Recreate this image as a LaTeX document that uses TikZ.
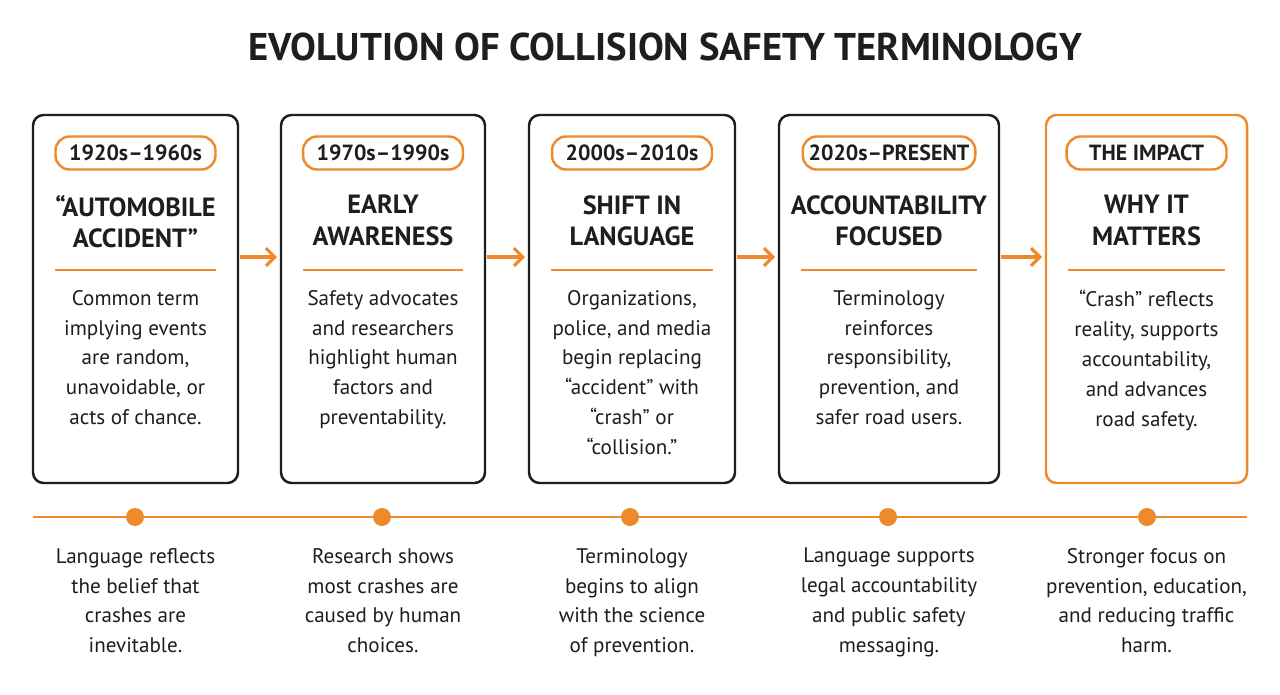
\documentclass[tikz,border=0pt]{standalone}
\usepackage{fontspec}
\setmainfont{PT Sans}
\usetikzlibrary{positioning,arrows.meta}
\definecolor{accent}{HTML}{EE8A2C}
\definecolor{ink}{HTML}{1E1E1E}
\tikzset{
  card/.style={draw=ink,line width=1.4pt,rounded corners=6pt,fill=white},
  pill/.style={draw=accent,line width=1.4pt,rounded corners=8pt,minimum width=3.2cm,minimum height=0.66cm,font=\fontsize{12.5}{13}\selectfont\bfseries,text=ink},
  head/.style={font=\fontsize{15}{18}\selectfont\bfseries,text=ink,align=center},
  body/.style={font=\fontsize{12}{17}\selectfont,text=ink,align=center},
  flow/.style={-{Straight Barb[length=5pt,width=10pt]},draw=accent,line width=1.8pt},
  dot/.style={circle,fill=accent,inner sep=0pt,minimum size=0.36cm}
}
\begin{document}
\begin{tikzpicture}[x=0.02cm,y=-0.02cm]
\useasboundingbox[fill=white] (0,0) rectangle (1280,694);
\node[font=\fontsize{22}{22}\selectfont\bfseries,text=ink] (title) at (665,47) {EVOLUTION OF COLLISION SAFETY TERMINOLOGY};
% timeline
\coordinate (tl) at (33,517);
\coordinate (tr) at (1247,517);
\draw[accent,line width=1.6pt] (tl) -- (tr);
\foreach \i/\l/\r/\c/\d/\h/\b/\bot in {
 1/33/238/ink/{1920s--1960s}/{``AUTOMOBILE\\ACCIDENT''}/{Common term\\implying events\\are random,\\unavoidable, or\\acts of chance.}/{Language reflects\\the belief that\\crashes are\\inevitable.},
 2/281/485/ink/{1970s--1990s}/{EARLY\\AWARENESS}/{Safety advocates\\and researchers\\highlight human\\factors and\\preventability.}/{Research shows\\most crashes are\\caused by human\\choices.},
 3/529/735/ink/{2000s--2010s}/{SHIFT IN\\LANGUAGE}/{Organizations,\\police, and media\\begin replacing\\``accident'' with\\``crash'' or\\``collision.''}/{Terminology\\begins to align\\with the science\\of prevention.},
 4/779/999/ink/{2020s--PRESENT}/{ACCOUNTABILITY\\FOCUSED}/{Terminology\\reinforces\\responsibility,\\prevention, and\\safer road users.}/{Language supports\\legal accountability\\and public safety\\messaging.},
 5/1046/1247/accent/{THE IMPACT}/{WHY IT\\MATTERS}/{``Crash'' reflects\\reality, supports\\accountability,\\and advances\\road safety.}/{Stronger focus on\\prevention, education,\\and reducing traffic\\harm.}}{
  \pgfmathsetmacro{\cx}{(\l+\r)/2}
  \draw[card,draw=\c] (\l,115) rectangle (\r,483);
  \coordinate (in\i) at (\l-4,257);
  \coordinate (out\i) at (\r+2,257);
  \node[pill] (date\i) at (\cx,153) {\d};
  \node[head,anchor=north] (head\i) at (\cx,189) {\h};
  \draw[accent,line width=1.4pt] (\l+22,270) -- (\r-22,270);
  \node[body,anchor=north] (body\i) at (\cx,284) {\b};
  \node[body,anchor=north] (note\i) at (\cx,542) {\bot};
}
\foreach \i/\x in {1/135,2/382,3/630,4/888,5/1147}
  \node[dot] (stop\i) at (\x,517) {};
\foreach \a/\b in {1/2,2/3,3/4,4/5}
  \draw[flow] (out\a) -- (in\b);
\end{tikzpicture}
\end{document}
